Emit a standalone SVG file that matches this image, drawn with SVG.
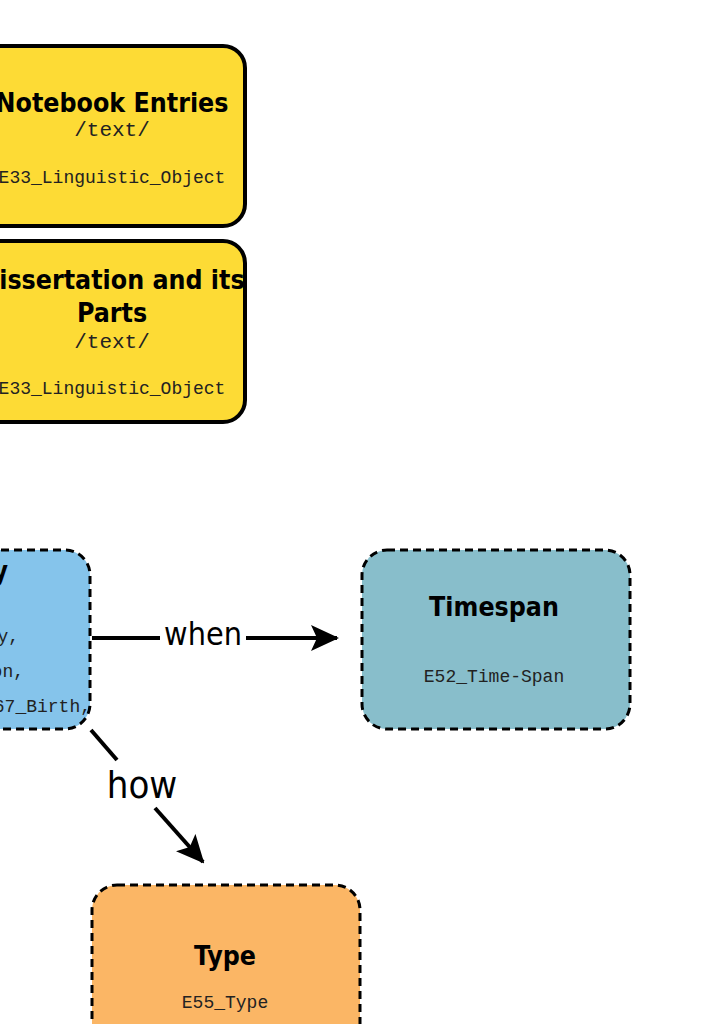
<svg xmlns="http://www.w3.org/2000/svg" width="711" height="1024" viewBox="0 0 711 1024">
<style>
.title{font-family:"DejaVu Sans Condensed","DejaVu Sans",Verdana,sans-serif;font-stretch:condensed;font-weight:bold;font-size:26.5px;fill:#000;text-anchor:middle}
.mono{font-family:"Liberation Mono","Courier New",monospace;font-size:18px;fill:#222;text-anchor:middle}
.mono2{font-family:"Liberation Mono","Courier New",monospace;font-size:21px;fill:#222;text-anchor:middle}
.solid{stroke:#000;stroke-width:4}
.dash{stroke:#000;stroke-width:3;stroke-dasharray:8 5}
.conn{stroke:#000;stroke-width:4;fill:none}
.lbl{font-family:"DejaVu Sans Condensed","DejaVu Sans",Tahoma,sans-serif;font-stretch:condensed;fill:#000}
</style>
<defs>
<marker id="arr" viewBox="0 0 28 26" refX="26" refY="13" markerWidth="28" markerHeight="26" markerUnits="userSpaceOnUse" orient="auto">
<path d="M0,0 L28,13 L0,26 L6,13 Z" fill="#000"/>
</marker>
</defs>
<rect width="711" height="1024" fill="#fff"/>
<g id="notebook">
<rect class="solid" x="-22" y="46" width="267" height="180" rx="22" fill="#FDDB35"/>
<text class="title" x="112" y="112">Notebook Entries</text>
<text class="mono2" x="112" y="136">/text/</text>
<text class="mono" x="112" y="183">E33_Linguistic_Object</text>
</g>
<g id="dissertation">
<rect class="solid" x="-22" y="241" width="267" height="181" rx="22" fill="#FDDB35"/>
<text class="title" x="112" y="289">Dissertation and its</text>
<text class="title" x="112" y="322">Parts</text>
<text class="mono2" x="112" y="348">/text/</text>
<text class="mono" x="112" y="394">E33_Linguistic_Object</text>
</g>
<g id="activity">
<rect class="dash" x="-180" y="550" width="270" height="179" rx="25" fill="#85C4EB"/>
<text class="title" x="8" y="580" style="text-anchor:end">y</text>
<text class="mono" x="19" y="642" style="text-anchor:end">y,</text>
<text class="mono" x="24" y="677" style="text-anchor:end">on,</text>
<text class="mono" x="91" y="712" style="text-anchor:end">67_Birth,</text>
</g>
<g id="timespan">
<rect class="dash" x="362" y="550" width="268" height="179" rx="25" fill="#88BECB"/>
<text class="title" x="494" y="616">Timespan</text>
<text class="mono" x="494" y="682">E52_Time-Span</text>
</g>
<g id="type">
<rect class="dash" x="92" y="885" width="268" height="179" rx="25" fill="#FBB665"/>
<text class="title" x="225" y="965">Type</text>
<text class="mono" x="225" y="1008">E55_Type</text>
</g>
<g id="connectors">
<line class="conn" x1="92" y1="638" x2="160" y2="638"/>
<line class="conn" x1="246" y1="638" x2="337" y2="638" marker-end="url(#arr)"/>
<text class="lbl" x="203" y="645" font-size="32" text-anchor="middle">when</text>
<line class="conn" x1="91" y1="730" x2="117" y2="760"/>
<line class="conn" x1="155" y1="808" x2="203" y2="862" marker-end="url(#arr)"/>
<text class="lbl" x="142" y="798" font-size="38" text-anchor="middle">how</text>
</g>
</svg>
